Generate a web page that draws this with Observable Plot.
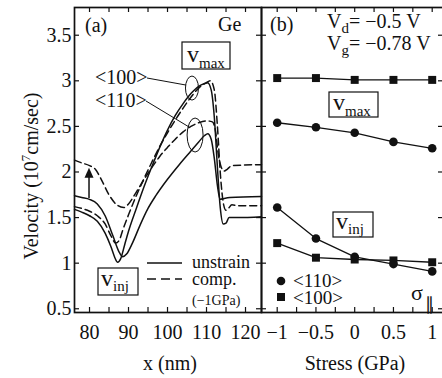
<!DOCTYPE html>
<html><head><meta charset="utf-8">
<script src="https://cdn.jsdelivr.net/npm/d3@7"></script>
<script src="https://cdn.jsdelivr.net/npm/@observablehq/plot@0.6"></script>
<style>
body{margin:0;background:#fff;}
#wrap{position:relative;width:442px;height:378px;overflow:hidden;background:#fff;}
#wrap svg{position:absolute;top:0;}
</style></head><body><div id="wrap"></div>
<script>
// ---- tick values ----
const xTicksA = [80, 90, 100, 110, 120];
const xMinorA = [80, 85, 90, 95, 100, 105, 110, 115, 120];
const yTicks = [0.5, 1, 1.5, 2, 2.5, 3, 3.5];
const stressTicks = [-1, -0.5, 0, 0.5, 1];
const stressMinor = [-1, -0.75, -0.5, -0.25, 0, 0.25, 0.5, 0.75, 1];

// ---- panel (a): velocity profiles ----
const s100x = [76.15,78,80,82,84,85.5,86.5,87.2,88,89,90,92,94,96,98,100,102,104,106,108,109.5,110.3,111.2,112,112.8,113.5,114.3,115,115.8,118,124.1];
const s100y = [1.59,1.56,1.52,1.46,1.33,1.18,1.06,1.01,1.05,1.2,1.35,1.6,1.84,2.06,2.27,2.46,2.62,2.75,2.86,2.94,2.97,2.98,2.9,2.6,2.05,1.62,1.43,1.44,1.5,1.5,1.51];
const d100x = [76.15,78,80,82,84,85.5,86.7,87.6,88.5,90,92,94,96,98,100,102,104,106,108,110,111,112,112.8,113.6,114.4,115,115.6,116.5,118,124.1];
const d100y = [1.62,1.6,1.57,1.52,1.43,1.3,1.22,1.25,1.36,1.53,1.74,1.93,2.11,2.28,2.43,2.57,2.7,2.82,2.92,2.98,3.0,2.9,2.5,1.95,1.64,1.58,1.6,1.64,1.63,1.63];
const s110x = [76.15,78,80,82,84,86,87.5,88.5,89.5,91,93,95,97,100,103,106,108,109.5,110.3,111.2,112,112.8,113.5,114.5,116,124.1];
const s110y = [1.74,1.72,1.7,1.65,1.52,1.3,1.13,1.07,1.1,1.22,1.42,1.6,1.74,1.92,2.08,2.23,2.33,2.4,2.42,2.36,2.15,1.85,1.7,1.71,1.72,1.73];
const d110x = [76.15,78,80,81.5,83,85,87,88.8,90,92,94,96,98,100,102,104,106,108,110,111.5,112.3,113,113.8,114.5,115.3,116.5,124.1];
const d110y = [2.13,2.1,2.07,2.03,1.92,1.75,1.64,1.61,1.65,1.78,1.92,2.05,2.17,2.27,2.36,2.44,2.5,2.54,2.56,2.55,2.45,2.2,2.05,2.01,2.03,2.07,2.08];

// ---- panel (b): velocity vs stress ----
const stress = [-1, -0.5, 0, 0.5, 1];
const vmax100 = [3.03, 3.03, 3.01, 3.01, 3.01];
const vmax110 = [2.54, 2.49, 2.43, 2.33, 2.26];
const vinj110 = [1.61, 1.27, 1.07, 0.99, 0.91];
const vinj100 = [1.22, 1.06, 1.04, 1.03, 1.01];

const H = 378, TOP = 7, BOT = 312, LEFT = 74, MID = 261, RIGHT = 443;
const innerH = BOT - TOP, TL = 5;
const yDom = [0.459, 3.804];
const font = "'Liberation Serif', 'Times New Roman', serif";
const ink = "#111";
const fmt = d => d < 0 ? "\u2212" + (-d) : String(d);

const wrap = document.getElementById("wrap");

function tickMarks(xs, ys, innerW) {
  return [
    Plot.ruleX(xs, {x: d => d, insetTop: innerH - TL, stroke: ink, strokeWidth: 1.2}),
    Plot.ruleX(xs, {x: d => d, insetBottom: innerH - TL, stroke: ink, strokeWidth: 1.2}),
    Plot.ruleY(ys, {y: d => d, insetRight: innerW - TL, stroke: ink, strokeWidth: 1.2}),
    Plot.ruleY(ys, {y: d => d, insetLeft: innerW - TL, stroke: ink, strokeWidth: 1.2})
  ];
}

const lineOpts = {stroke: ink, strokeWidth: 1.5, curve: "monotone-x"};
const dashOpts = {...lineOpts, strokeDasharray: "7,4"};

const plotA = Plot.plot({
  width: MID, height: H,
  marginLeft: LEFT, marginRight: 0, marginTop: TOP, marginBottom: H - BOT,
  x: {domain: [76.15, 124.1]},
  y: {domain: yDom},
  style: {fontFamily: font, fontSize: "20px", color: ink, background: "transparent", overflow: "visible"},
  marks: [
    ...tickMarks(xMinorA, yTicks, MID - LEFT),
    Plot.axisX({ticks: xTicksA, tickSize: 0, tickPadding: 12, label: null, tickFormat: fmt, fontSize: 20}),
    Plot.axisY({ticks: yTicks, tickSize: 0, tickPadding: 3, label: null, tickFormat: fmt, fontSize: 20}),
    Plot.line(d3.zip(s100x, s100y), lineOpts),
    Plot.line(d3.zip(s110x, s110y), lineOpts),
    Plot.line(d3.zip(d100x, d100y), dashOpts),
    Plot.line(d3.zip(d110x, d110y), dashOpts),
    Plot.frame({stroke: ink, strokeWidth: 1.7})
  ]
});
plotA.style.left = "0px";
wrap.appendChild(plotA);

const plotB = Plot.plot({
  width: RIGHT - MID, height: H,
  marginLeft: 0, marginRight: 0, marginTop: TOP, marginBottom: H - BOT,
  x: {domain: [-1.2026, 1.1458]},
  y: {domain: yDom, axis: null},
  style: {fontFamily: font, fontSize: "20px", color: ink, background: "transparent", overflow: "visible"},
  marks: [
    ...tickMarks(stressMinor, yTicks, RIGHT - MID),
    Plot.axisX({ticks: stressTicks, tickSize: 0, tickPadding: 12, label: null, tickFormat: fmt, fontSize: 20}),
    Plot.line(d3.zip(stress, vmax100), {stroke: ink, strokeWidth: 1.3}),
    Plot.line(d3.zip(stress, vmax110), {stroke: ink, strokeWidth: 1.3}),
    Plot.line(d3.zip(stress, vinj110), {stroke: ink, strokeWidth: 1.3}),
    Plot.line(d3.zip(stress, vinj100), {stroke: ink, strokeWidth: 1.3}),
    Plot.dot(d3.zip(stress, vmax100), {symbol: "square", r: 4.5, fill: ink, stroke: "none"}),
    Plot.dot(d3.zip(stress, vinj100), {symbol: "square", r: 4.5, fill: ink, stroke: "none"}),
    Plot.dot(d3.zip(stress, vmax110), {r: 4.3, fill: ink, stroke: "none"}),
    Plot.dot(d3.zip(stress, vinj110), {r: 4.3, fill: ink, stroke: "none"}),
    Plot.frame({stroke: ink, strokeWidth: 1.7})
  ]
});
plotB.style.left = MID + "px";
wrap.appendChild(plotB);

// ---- annotation overlay ----
const sx = plotA.scale("x"), sy = plotA.scale("y");
const X = v => sx.apply(v), Y = v => sy.apply(v);

const ov = d3.select(wrap).append("svg")
  .attr("width", 442).attr("height", 378)
  .style("left", "0px").style("font-family", font).style("fill", ink);

function txt(x, y, s, size = 20, anchor = "start") {
  return ov.append("text").attr("x", x).attr("y", y).attr("font-size", size)
    .attr("text-anchor", anchor).attr("fill", ink).text(s);
}
function subText(x, y, main, sub, rest, mainSize, subSize, dy) {
  const t = ov.append("text").attr("x", x).attr("y", y).attr("fill", ink).attr("font-size", mainSize);
  t.append("tspan").text(main);
  t.append("tspan").attr("font-size", subSize).attr("dy", dy).text(sub);
  if (rest) t.append("tspan").attr("dy", -dy).attr("font-size", mainSize).text(rest);
  return t;
}
function box(x, y, w, h) {
  ov.append("rect").attr("x", x).attr("y", y).attr("width", w).attr("height", h)
    .attr("fill", "#fff").attr("stroke", ink).attr("stroke-width", 1.2);
}

// axis titles
const yt = ov.append("text").attr("transform", "translate(38,176) rotate(-90)")
  .attr("text-anchor", "middle").attr("font-size", 20).attr("fill", ink);
yt.append("tspan").text("Velocity (10");
yt.append("tspan").attr("font-size", 13).attr("dy", -8).text("7");
yt.append("tspan").attr("dy", 8).text("cm/sec)");
txt(170, 370, "x (nm)", 20, "middle");
txt(355, 370, "Stress (GPa)", 20, "middle");

// panel (a) labels
txt(85, 32, "(a)");
txt(218, 31, "Ge");
box(182, 42, 48, 27);
subText(187, 62, "v", "max", null, 24, 15, 6);
txt(95, 84, "<100>");
txt(95, 107, "<110>");
ov.append("ellipse").attr("cx", X(106.4)).attr("cy", Y(2.915)).attr("rx", 6.5).attr("ry", 12)
  .attr("fill", "none").attr("stroke", ink).attr("stroke-width", 1);
ov.append("ellipse").attr("cx", X(107.2)).attr("cy", Y(2.40)).attr("rx", 8).attr("ry", 17)
  .attr("fill", "none").attr("stroke", ink).attr("stroke-width", 1);
ov.append("line").attr("x1", 147).attr("y1", 78).attr("x2", X(106.4) - 6).attr("y2", Y(2.915) - 3)
  .attr("stroke", ink).attr("stroke-width", 1);
ov.append("line").attr("x1", 146).attr("y1", 101).attr("x2", X(107.2) - 6).attr("y2", Y(2.40) - 8)
  .attr("stroke", ink).attr("stroke-width", 1);

// arrow (unstrained -> compressive) at x = 80 nm
ov.append("line").attr("x1", X(80)).attr("y1", Y(1.71)).attr("x2", X(80)).attr("y2", Y(1.95))
  .attr("stroke", ink).attr("stroke-width", 1.5);
ov.append("path").attr("d", `M${X(80)},${Y(2.04)} L${X(80) - 4.5},${Y(1.93)} L${X(80) + 4.5},${Y(1.93)} Z`)
  .attr("fill", ink);

box(98, 268, 40, 27);
subText(101, 286, "v", "inj", null, 24, 15, 5);

// legend (a)
ov.append("line").attr("x1", 147).attr("x2", 182).attr("y1", 263).attr("y2", 263).attr("stroke", ink).attr("stroke-width", 1.5);
ov.append("line").attr("x1", 147).attr("x2", 182).attr("y1", 279).attr("y2", 279).attr("stroke", ink).attr("stroke-width", 1.5).attr("stroke-dasharray", "9,5");
txt(192, 268, "unstrain", 18);
txt(192, 285, "comp.", 18);
txt(192, 305, "(\u22121GPa)", 14);

// panel (b) labels
txt(270, 31, "(b)");
subText(327, 28, "V", "d", "= \u22120.5 V", 20, 15, 5);
subText(327, 50, "V", "g", "= \u22120.78 V", 20, 15, 5);
box(329, 92, 49, 25);
subText(333, 110, "v", "max", null, 24, 15, 6);
box(333, 212, 40, 25);
subText(336, 229, "v", "inj", null, 24, 15, 5);

ov.append("circle").attr("cx", 281).attr("cy", 281).attr("r", 4.3).attr("fill", ink);
ov.append("rect").attr("x", 277).attr("y", 293).attr("width", 8).attr("height", 8).attr("fill", ink);
txt(293, 287, "<110>", 19);
txt(293, 304, "<100>", 19);
const sg = ov.append("text").attr("x", 411).attr("y", 300).attr("font-size", 22).attr("fill", ink);
sg.append("tspan").text("\u03C3");
sg.append("tspan").attr("font-size", 18).attr("dy", 10).attr("dx", 2).text("\u2225");
</script></body></html>
